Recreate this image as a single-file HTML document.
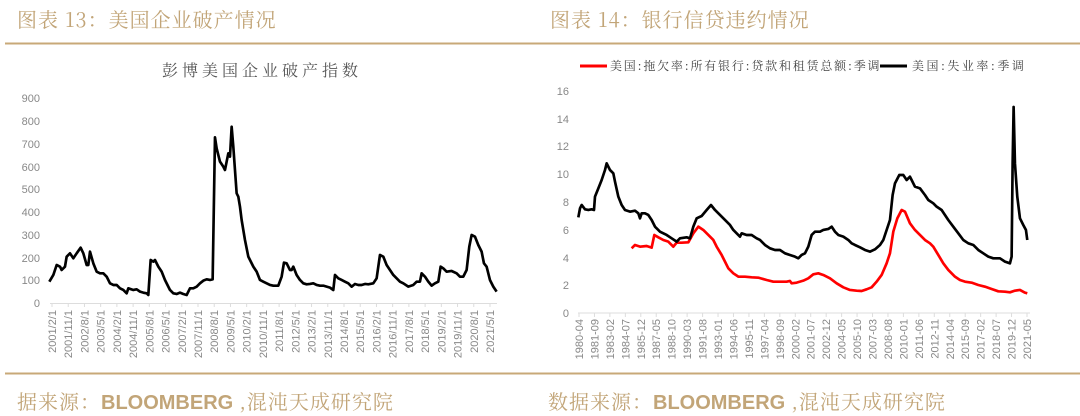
<!DOCTYPE html>
<html><head><meta charset="utf-8"><style>
body{margin:0;background:#fff;width:1080px;height:416px;overflow:hidden;position:relative;font-family:"Liberation Sans","Noto Serif CJK SC",serif}
.t{position:absolute;color:#c2a578;font-family:"Noto Serif CJK SC","WenQuanYi Zen Hei",serif;font-size:20px;letter-spacing:1px;white-space:nowrap}
</style></head><body>
<div class="t" style="left:17px;top:4px">图表 13：美国企业破产情况</div>
<div class="t" style="left:550px;top:4px">图表 14：银行信贷违约情况</div>
<div class="t" style="left:17px;top:386px">据来源：<span style="font-family:'Liberation Sans Narrow','Liberation Sans',sans-serif;font-weight:bold;letter-spacing:0">BLOOMBERG</span> ,混沌天成研究院</div>
<div class="t" style="left:548px;top:386px">数据来源：<span style="font-family:'Liberation Sans Narrow','Liberation Sans',sans-serif;font-weight:bold;letter-spacing:0">BLOOMBERG</span> ,混沌天成研究院</div>
<svg width="1080" height="416" style="position:absolute;left:0;top:0" font-family="Liberation Sans, sans-serif">
<line x1="5" y1="43.5" x2="1080" y2="43.5" stroke="#c8a978" stroke-width="2"/>
<line x1="5" y1="373.5" x2="1080" y2="373.5" stroke="#c8a978" stroke-width="2"/>
<text x="262" y="76" text-anchor="middle" font-size="16" fill="#555" font-family="Noto Serif CJK SC, serif" letter-spacing="4">彭博美国企业破产指数</text>
<g font-size="11" fill="#888" text-anchor="end">
<text x="40" y="102">900</text><text x="40" y="125">800</text><text x="40" y="148">700</text><text x="40" y="171">600</text><text x="40" y="193">500</text><text x="40" y="216">400</text><text x="40" y="239">300</text><text x="40" y="262">200</text><text x="40" y="284">100</text><text x="40" y="307">0</text>
</g>
<line x1="50" y1="303.5" x2="497" y2="303.5" stroke="#ddd"/>
<g id="lx" font-size="11" fill="#888" text-anchor="end"></g>
<g transform="translate(0,120) scale(0.3333)">
<polyline fill="none" stroke="#000" stroke-width="8" stroke-linejoin="round" points="148,485 160,465 170,435 180,440 185,450 195,440 200,410 210,400 220,415 230,400 242,383 250,400 260,435 265,435 270,395 280,430 290,455 300,460 310,460 320,470 330,490 340,495 350,495 360,505 370,510 380,520 385,505 400,510 410,508 420,515 430,518 440,520 445,525 452,420 460,425 465,420 475,440 485,455 495,480 510,510 520,520 530,522 540,518 550,522 560,525 570,505 580,505 590,500 600,490 610,482 620,478 630,480 638,478 645,52 650,85 660,125 670,140 675,150 680,125 685,100 690,110 695,20 700,80 705,150 710,220 715,230 720,260 725,300 735,360 745,410 760,440 770,455 780,480 790,485 800,490 810,495 820,497 835,497 845,470 852,428 860,430 870,450 875,450 880,440 890,465 900,480 910,490 920,493 930,492 940,490 950,495 960,497 970,497 980,500 990,503 1000,510 1005,465 1015,475 1025,480 1035,485 1045,490 1055,500 1065,492 1075,495 1085,495 1095,492 1105,493 1120,490 1130,475 1140,405 1150,410 1160,435 1170,450 1180,465 1190,475 1200,485 1210,490 1225,500 1240,495 1250,485 1260,485 1265,460 1275,470 1285,485 1295,497 1305,490 1315,485 1322,440 1330,445 1340,455 1355,453 1370,460 1380,470 1390,470 1400,450 1408,380 1415,345 1425,350 1435,375 1445,395 1452,430 1460,440 1470,480 1480,500 1490,515"/>
</g>
<line x1="580" y1="66" x2="607" y2="66" stroke="#f00" stroke-width="3"/>
<text x="610" y="70" font-size="12" fill="#444" font-family="Noto Serif CJK SC, serif" letter-spacing="1.8">美国:拖欠率:所有银行:贷款和租赁总额:季调</text>
<line x1="880" y1="66" x2="907" y2="66" stroke="#000" stroke-width="3"/>
<text x="912" y="70" font-size="12" fill="#444" font-family="Noto Serif CJK SC, serif" letter-spacing="2.5">美国:失业率:季调</text>
<g font-size="11" fill="#888" text-anchor="end">
<text x="569" y="95">16</text><text x="569" y="123">14</text><text x="569" y="150">12</text><text x="569" y="178">10</text><text x="569" y="206">8</text><text x="569" y="234">6</text><text x="569" y="262">4</text><text x="569" y="289">2</text><text x="569" y="317">0</text>
</g>
<line x1="578" y1="313" x2="1030" y2="313" stroke="#ddd"/>
<g id="rx" font-size="11" fill="#888" text-anchor="end"></g>
<g transform="translate(540,130) scale(0.3333)">
<polyline fill="none" stroke="#f00" stroke-width="8" stroke-linejoin="round" points="275,355 285,345 300,350 320,348 335,353 343,315 355,322 370,330 385,335 400,350 410,338 425,338 445,337 460,310 475,290 490,300 505,315 520,330 530,350 545,375 555,395 565,415 580,430 595,440 615,440 635,442 655,443 680,450 700,455 720,455 740,455 750,453 755,460 770,458 790,452 805,445 820,433 835,430 850,435 870,445 890,460 910,472 930,480 950,482 965,483 980,478 995,472 1010,455 1025,435 1040,400 1050,370 1060,305 1072,265 1085,240 1095,245 1110,280 1125,300 1140,315 1155,330 1170,340 1180,350 1195,375 1210,400 1225,420 1245,440 1260,450 1275,455 1295,458 1315,465 1335,470 1355,477 1375,484 1395,485 1410,487 1425,482 1440,480 1455,488 1462,490"/>
<polyline fill="none" stroke="#000" stroke-width="8" stroke-linejoin="round" points="115,262 120,235 125,225 135,238 145,240 155,238 162,240 165,200 175,175 185,150 195,120 200,100 210,120 220,130 225,155 235,200 245,225 255,240 270,245 285,242 295,250 300,265 305,250 315,250 325,255 335,270 345,290 360,305 380,315 395,325 410,335 420,325 440,322 450,325 460,290 470,265 485,258 500,240 513,225 525,240 540,255 555,270 570,285 580,300 590,310 600,320 605,310 620,315 635,315 650,325 660,330 675,345 690,355 705,360 720,360 735,370 750,375 765,380 775,385 785,375 795,370 805,350 815,315 825,305 840,305 850,300 865,297 875,290 885,305 895,315 910,320 925,330 935,340 945,345 960,352 975,360 990,365 1005,358 1020,345 1030,330 1040,300 1050,270 1058,195 1065,160 1078,135 1090,135 1100,150 1110,140 1115,150 1125,170 1140,175 1155,195 1165,210 1180,220 1190,230 1205,240 1215,255 1225,270 1240,290 1255,310 1270,330 1285,340 1300,345 1315,360 1330,370 1345,380 1360,385 1380,385 1395,395 1410,400 1415,380 1418,100 1421,-69 1425,100 1432,200 1440,265 1450,285 1458,300 1462,330"/>
</g>
</svg>
<script>
var ns="http://www.w3.org/2000/svg";
var L=["2001/2/1","2001/11/1","2002/8/1","2003/5/1","2004/2/1","2004/11/1","2005/8/1","2006/5/1","2007/2/1","2007/11/1","2008/8/1","2009/5/1","2010/2/1","2010/11/1","2011/8/1","2012/5/1","2013/2/1","2013/11/1","2014/8/1","2015/5/1","2016/2/1","2016/11/1","2017/8/1","2018/5/1","2019/2/1","2019/11/1","2020/8/1","2021/5/1"];
var g=document.getElementById("lx");
L.forEach(function(s,i){var x=52+i*(438/(L.length-1));var t=document.createElementNS(ns,"text");t.setAttribute("transform","translate("+(x+4)+",310) rotate(-90)");t.textContent=s;g.appendChild(t);
var l=document.createElementNS(ns,"line");l.setAttribute("x1",x);l.setAttribute("x2",x);l.setAttribute("y1",303);l.setAttribute("y2",307);l.setAttribute("stroke","#ddd");g.appendChild(l);});
var R=["1980-04","1981-09","1983-02","1984-07","1985-12","1987-05","1988-10","1990-03","1991-08","1993-01","1994-06","1995-11","1997-04","1998-09","2000-02","2001-07","2002-12","2004-05","2005-10","2007-03","2008-08","2010-01","2011-06","2012-11","2014-04","2015-09","2017-02","2018-07","2019-12","2021-05"];
g=document.getElementById("rx");
R.forEach(function(s,i){var x=579+i*(448/(R.length-1));var t=document.createElementNS(ns,"text");t.setAttribute("transform","translate("+(x+4)+",319) rotate(-90)");t.textContent=s;g.appendChild(t);
var l=document.createElementNS(ns,"line");l.setAttribute("x1",x);l.setAttribute("x2",x);l.setAttribute("y1",313);l.setAttribute("y2",317);l.setAttribute("stroke","#ddd");g.appendChild(l);});
</script>
</body></html>
